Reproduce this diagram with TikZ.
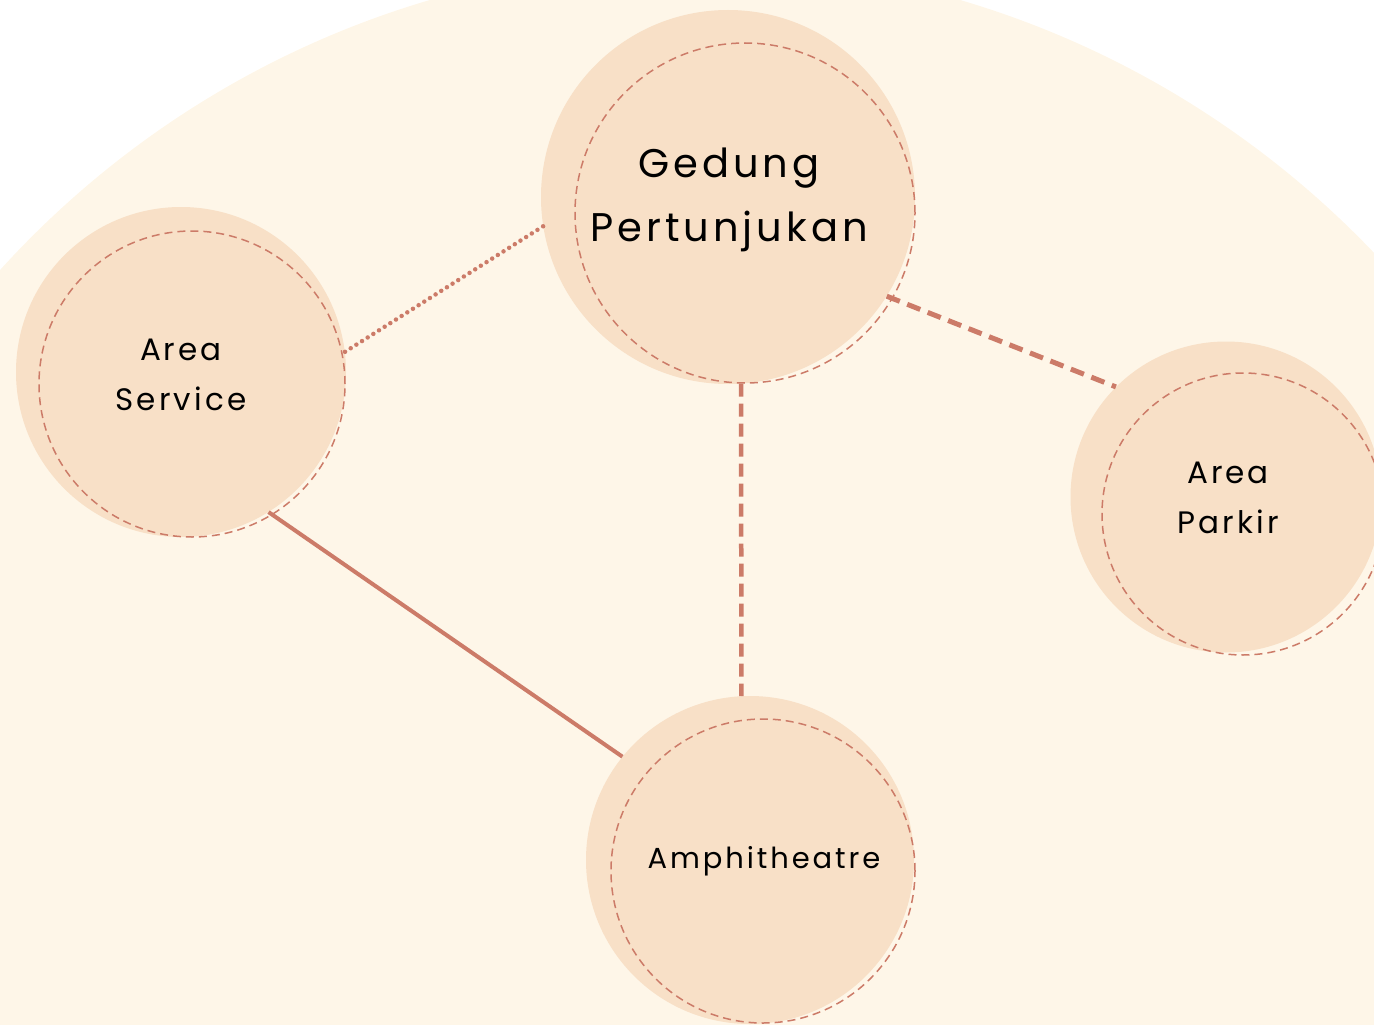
\documentclass[tikz,border=0pt]{standalone}
\usepackage{fontspec}
\setmainfont[LetterSpace=10]{Poppins}
\definecolor{bgc}{HTML}{FEF6E8}
\definecolor{nodefill}{HTML}{F8E0C7}
\definecolor{linec}{HTML}{CC7B68}
\begin{document}
\begin{tikzpicture}[x=1pt,y=-1pt,
  bubble/.style={circle,fill=nodefill,inner sep=0pt},
  ring/.style={circle,draw=linec,line width=1.5pt,dash pattern=on 8pt off 5pt,inner sep=0pt},
  lbl/.style={align=center,text=black},
  conn/.style={draw=linec,line width=3pt}]
\useasboundingbox (0,0) rectangle (1374,1025);
\begin{scope}
\clip (0,0) rectangle (1374,1025);
\fill[bgc] (695,900) circle[radius=938];
\end{scope}
% bubbles
\node[bubble,minimum size=374pt] (g) at (728,197) {};
\node[ring,minimum size=340pt] (gr) at (745,213) {};
\node[bubble,minimum size=330pt] (s) at (181,372) {};
\node[ring,minimum size=306pt] (sr) at (192,384) {};
\node[bubble,minimum size=311pt] (p) at (1226,497) {};
\node[ring,minimum size=282pt] (pr) at (1243,514) {};
\node[bubble,minimum size=328pt] (a) at (750,860) {};
\node[ring,minimum size=304pt] (ar) at (763,871) {};
% connectors
\draw[conn,line width=4.5pt,line cap=round,dash pattern=on 0pt off 6.7pt] (g.189) -- (s.7);
\draw[conn,line width=5pt,dash pattern=on 14pt off 8pt] (g.-32) -- (p.135.5);
\draw[conn,line width=4.5pt,dash pattern=on 13pt off 7pt] (g.274) -- (a.93);
\draw[conn,line width=4pt] (s.-58.5) -- (a.141.2);
% labels
\node[lbl,font=\fontsize{40}{64}\selectfont] (gt) at (729,200) {Gedung\\Pertunjukan};
\node[lbl,font=\fontsize{31}{50}\selectfont] (st) at (181,375) {Area\\Service};
\node[lbl,font=\fontsize{31}{50}\selectfont] (pt) at (1228,498) {Area\\Parkir};
\node[lbl,font=\fontsize{29}{50}\selectfont] (at) at (764,861) {Amphitheatre};
\end{tikzpicture}
\end{document}
